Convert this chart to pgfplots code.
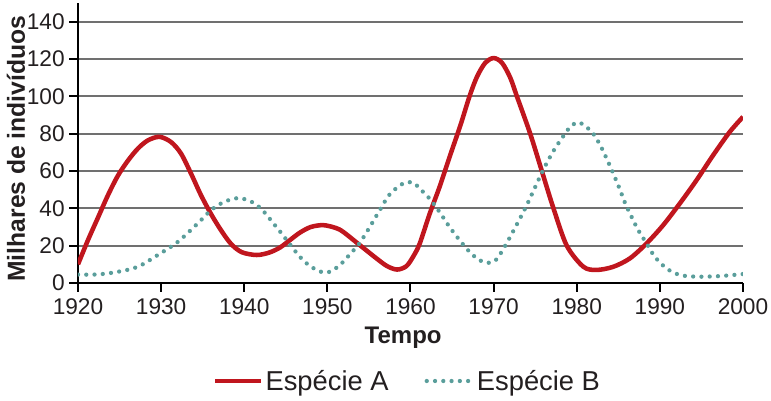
\documentclass[border=0pt]{standalone}
\usepackage{pgfplots}
\pgfplotsset{compat=1.18}
\usepackage{fontspec}
\setmainfont{Liberation Sans}
\definecolor{redA}{HTML}{C0161E}
\definecolor{tealB}{HTML}{5A9E9B}
\definecolor{gridc}{HTML}{707070}
\definecolor{txt}{HTML}{231F20}
\begin{document}
\begin{tikzpicture}
\begin{axis}[
  name=ax, at={(0,0)}, anchor=south west,
  width=498.75pt, height=210pt, scale only axis,
  xmin=1920, xmax=2000, ymin=0, ymax=150,
  axis lines=left, axis line style={-, line width=1.5pt, black},
  xtick={1920,1930,...,2000}, ytick={0,20,...,140},
  ymajorgrids, grid style={gridc, line width=1.4pt},
  tick align=outside, major tick length=6.5pt, tick style={line width=1.5pt, black},
  /pgf/number format/.cd, 1000 sep={}, assume math mode=true, /pgfplots/.cd,
  ticklabel style={font=\fontsize{17}{20}\selectfont, text=txt},
  xticklabel style={yshift=-2pt},
  xlabel={Tempo}, ylabel={Milhares de indivíduos},
  xlabel style={font=\fontsize{18}{21}\selectfont\bfseries, text=txt, at={(axis description cs:0.489,-0.196)}, anchor=center},
  ylabel style={font=\fontsize{18.5}{21}\selectfont\bfseries, text=txt, at={(axis description cs:-0.0932,0.48)}, anchor=center},
  legend columns=2,
  legend style={at={(axis description cs:0.496,-0.35)}, anchor=center, draw=none, fill=none,
    font=\fontsize{20.5}{24}\selectfont, text=txt,
    /tikz/every even column/.append style={column sep=25pt}},
  legend image code/.code={\draw[#1] (0pt,0pt) -- (34pt,0pt);},
  legend cell align=left,
]
\addplot[redA, line width=3.4pt, smooth, tension=0.5] coordinates {
(1920,10) (1921.2,23) (1922.4,35) (1923.6,47) (1924.8,57.5) (1926,65.5) (1927.2,72) (1928.4,76.4) (1929.8,78.3) (1931.2,75.5) (1932.4,69.3) (1933.6,58.6) (1934.8,47) (1936,37) (1937.2,28.3) (1938.4,21) (1939.7,16.5) (1941.5,15) (1943,16.3) (1944.3,19) (1945.5,23) (1946.7,27) (1948,30) (1949.5,31) (1951,29.5) (1951.9,27.4) (1953.9,20.3) (1955.9,13.2) (1957.2,9) (1958.4,7.2) (1959.5,9) (1960.3,14) (1961.1,21) (1962.3,37) (1963.5,51.5) (1964.7,67.5) (1966,84.4) (1967.1,100) (1968,110.5) (1969,118) (1970,120.5) (1971,118) (1972,110) (1972.8,100) (1974.4,80) (1975.8,60) (1977.2,40) (1978.8,20) (1980.8,8.7) (1982.4,7) (1984.4,8.7) (1986.4,13.2) (1988.4,21.2) (1990.4,31) (1992.4,42.6) (1994.4,55) (1996.4,68.4) (1998.4,80.9) (2000,89)
};
\addlegendentry{Espécie A}
\addplot[tealB, line width=3.2pt, line cap=round, dash pattern=on 0pt off 6.2pt, smooth, tension=0.5] coordinates {
(1920,4.5) (1922.4,4.6) (1924.8,6) (1927.2,8.7) (1929.6,15) (1932,22) (1934.4,31.9) (1936,39) (1937.6,43.5) (1939.4,45.5) (1941.1,43) (1942.3,38.5) (1943.5,32) (1944.5,26.5) (1945.5,20.7) (1946.7,14) (1947.9,9.1) (1949.3,5.9) (1950.3,6) (1951.5,9.6) (1952.7,15.3) (1953.9,21.5) (1955.1,30) (1956.3,39) (1957.5,47.5) (1959.1,53.3) (1960.3,53.8) (1961.1,50.6) (1962.3,45.2) (1963.5,38) (1964.7,30) (1965.9,23) (1967.1,16.7) (1968.2,12.5) (1969.2,10.8) (1970.2,12) (1971.4,20) (1973.8,40) (1975.9,60) (1977.3,71.5) (1978.6,80) (1979.3,84) (1980.3,86) (1981.8,81) (1982.8,74) (1983.6,66.6) (1984.4,58.6) (1985.2,50) (1985.8,43) (1986.6,35.4) (1987.4,28.3) (1988.4,21.2) (1989.4,14) (1990.8,7.8) (1992.4,4.3) (1994.4,3.4) (1997.2,3.7) (2000,4.8)
};
\addlegendentry{Espécie B}
\end{axis}
\pgfresetboundingbox
\useasboundingbox (ax.south west) ++(-58.5pt,-87.75pt) rectangle ++(578.25pt,300pt);
\end{tikzpicture}
\end{document}
